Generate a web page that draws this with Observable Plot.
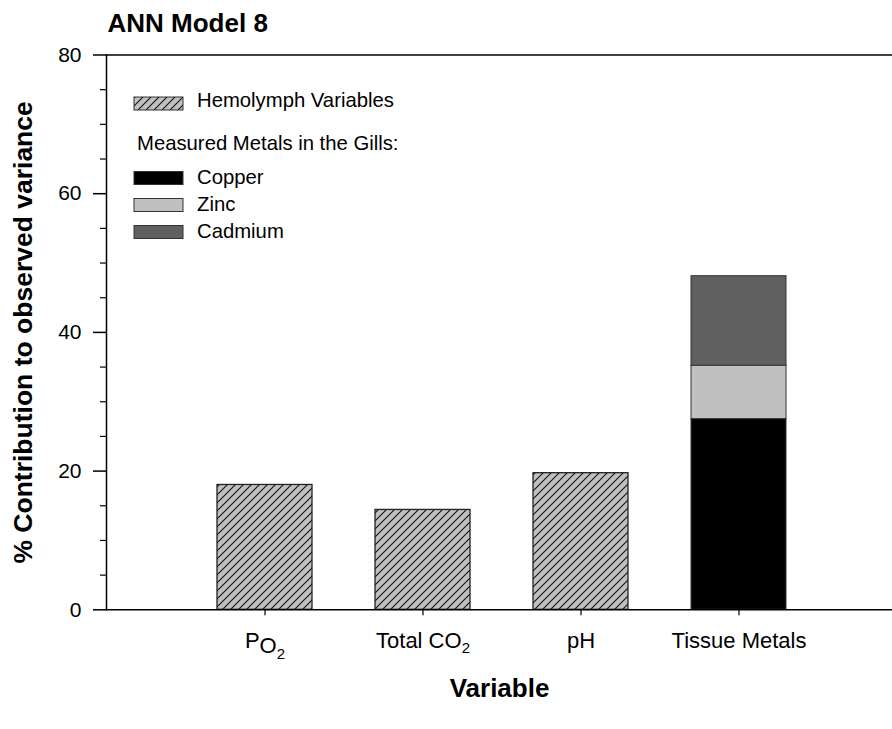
<!DOCTYPE html>
<html><head><meta charset="utf-8">
<script src="https://cdn.jsdelivr.net/npm/d3@7"></script>
<script src="https://cdn.jsdelivr.net/npm/@observablehq/plot@0.6"></script>
<style>
body{margin:0;background:#fff;}
#wrap{position:relative;width:892px;height:729px;overflow:hidden;font-family:"Liberation Sans",Arial,sans-serif;}
#wrap svg{position:absolute;left:0;top:0;}
</style></head><body>
<svg width="0" height="0" style="position:absolute"><defs>
<pattern id="hatch" patternUnits="userSpaceOnUse" width="8" height="8">
<rect width="8" height="8" fill="#c0c0c0"/>
<path d="M-1,1 L1,-1 M0,8 L8,0 M7,9 L9,7" stroke="#111" stroke-width="1.1"/>
</pattern></defs></svg>
<div id="wrap"></div>
<script>
const title = "ANN Model 8";
const xTitle = "Variable";
const yTitle = "% Contribution to observed variance";
const categories = ["PO2", "Total CO2", "pH", "Tissue Metals"];
const hemolymphVars = ["PO2", "Total CO2", "pH"];
const hemolymphValues = [18.0, 14.4, 19.7];
const metalCategory = "Tissue Metals";
const metals = ["Copper", "Zinc", "Cadmium"];
const metalValues = [27.5, 7.7, 12.9];
const metalColors = ["#000000", "#c0c0c0", "#606060"];
const yMajorTicks = [0, 20, 40, 60, 80];
const yMinorTicks = [5, 10, 15, 25, 30, 35, 45, 50, 55, 65, 70, 75];
const legendHemolymph = "Hemolymph Variables";
const legendMetalsHeader = "Measured Metals in the Gills:";

const font = '"Liberation Sans", Arial, sans-serif';
const hemoRows = hemolymphVars.map((v, i) => ({variable: v, value: hemolymphValues[i]}));
const metalRows = metals.map((m, i) => ({variable: metalCategory, metal: m, value: metalValues[i]}));

const plot = Plot.plot({
  width: 892, height: 729,
  marginLeft: 106, marginRight: 0, marginTop: 54.5, marginBottom: 119.7,
  style: {fontFamily: font, fontSize: "21px", color: "#000", background: "transparent", overflow: "visible"},
  x: {type: "band", domain: categories, range: [106, 897], paddingInner: 0.4, paddingOuter: 0.7, label: null},
  y: {domain: [0, 80], label: null},
  color: {domain: metals, range: metalColors},
  marks: [
    Plot.barY(hemoRows, {x: "variable", y: "value", fill: "url(#hatch)", stroke: "#222", strokeWidth: 1.3}),
    Plot.barY(metalRows, {x: "variable", y: "value", fill: "metal", stroke: "#333", strokeWidth: 1}),
    Plot.ruleY([0, 80], {stroke: "#000", strokeWidth: 1.5}),
    Plot.frame({anchor: "left", stroke: "#000", strokeWidth: 1.5}),
    Plot.axisY(yMajorTicks, {tickSize: 13, tickPadding: 12, fontSize: 21, strokeWidth: 1.5, label: null}),
    Plot.axisY(yMinorTicks, {tickSize: 6, tickFormat: () => "", strokeWidth: 1.2, label: null}),
    Plot.axisX({tickSize: 6, tickPadding: 17, fontSize: 22, strokeWidth: 1.2, label: null}),
    Plot.text([title], {frameAnchor: "top-left", dx: 1, dy: -31, textAnchor: "start", lineAnchor: "middle", fontSize: 26, fontWeight: "bold"}),
    Plot.text([xTitle], {frameAnchor: "bottom", dy: 79, textAnchor: "middle", lineAnchor: "middle", fontSize: 26, fontWeight: "bold"}),
    Plot.text([yTitle], {frameAnchor: "left", dx: -83, rotate: -90, textAnchor: "middle", lineAnchor: "middle", fontSize: 26.5, fontWeight: "bold"})
  ]
});

// subscripts in tick labels
const subs = {
  "PO2": [["P", 0, null], ["O", 5, null], ["2", 6, 15]],
  "Total CO2": [["Total CO", 0, null], ["2", 5, 15]]
};
d3.select(plot).selectAll('g[aria-label="x-axis tick label"] text').each(function() {
  const parts = subs[this.textContent];
  if (!parts) return;
  const t = d3.select(this);
  t.text(null);
  parts.forEach(([s, dy, fs]) => {
    const ts = t.append("tspan").text(s);
    if (dy) ts.attr("dy", dy);
    if (fs) ts.attr("font-size", fs);
  });
});
document.getElementById("wrap").appendChild(plot);

// legend
const lg = d3.select("#wrap").append("svg").attr("width", 892).attr("height", 729)
  .style("font-family", font).style("font-size", "20.3px");
const sx = 134, sw = 49, sh = 13, tx = 197;
lg.append("rect").attr("x", sx).attr("y", 97).attr("width", sw).attr("height", sh)
  .attr("fill", "url(#hatch)").attr("stroke", "#333").attr("stroke-width", 1);
lg.append("text").attr("x", tx).attr("y", 107).text(legendHemolymph);
lg.append("text").attr("x", 137).attr("y", 150).text(legendMetalsHeader);
metals.forEach((m, i) => {
  const base = 184 + i * 27;
  lg.append("rect").attr("x", sx).attr("y", base - 12.5).attr("width", sw).attr("height", sh)
    .attr("fill", metalColors[i]).attr("stroke", "#333").attr("stroke-width", 1);
  lg.append("text").attr("x", tx).attr("y", base).text(m);
});
</script>
</body></html>
